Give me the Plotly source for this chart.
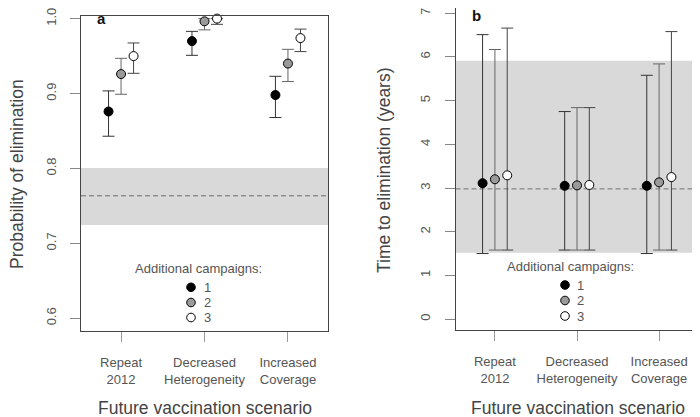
import plotly.graph_objects as go

# page body has an 8px margin, so the figure is drawn 8px in from the window edge
OFF = 8
W, H = 700 - OFF, 417 - OFF

# ---------------- data ----------------
scenarios = ["Repeat<br>2012", "Decreased<br>Heterogeneity", "Increased<br>Coverage"]
campaigns = ["1", "2", "3"]

# Panel a: probability of elimination (point, lower, upper) per number of additional campaigns
prob_mid_1 = [0.876, 0.970, 0.898]
prob_lo_1 = [0.843, 0.951, 0.868]
prob_hi_1 = [0.9035, 0.983, 0.923]
prob_mid_2 = [0.926, 0.9964, 0.940]
prob_lo_2 = [0.899, 0.985, 0.916]
prob_hi_2 = [0.947, 1.000, 0.959]
prob_mid_3 = [0.950, 1.000, 0.974]
prob_lo_3 = [0.927, 0.9924, 0.956]
prob_hi_3 = [0.9675, 1.000, 0.986]
prob_band = [0.7245, 0.8005]
prob_ref = 0.7635
prob_ticks = [0.6, 0.7, 0.8, 0.9, 1.0]

# Panel b: time to elimination (years)
time_mid_1 = [3.11, 3.05, 3.05]
time_lo_1 = [1.50, 1.58, 1.50]
time_hi_1 = [6.51, 4.75, 5.58]
time_mid_2 = [3.20, 3.06, 3.13]
time_lo_2 = [1.58, 1.58, 1.58]
time_hi_2 = [6.17, 4.84, 5.84]
time_mid_3 = [3.29, 3.07, 3.25]
time_lo_3 = [1.58, 1.58, 1.58]
time_hi_3 = [6.66, 4.84, 6.58]
time_band = [1.52, 5.915]
time_ref = 2.98
time_ticks = [0, 1, 2, 3, 4, 5, 6, 7]

# ---------------- styling ----------------
FONT = "Liberation Sans, Arial, Helvetica, sans-serif"
TXT = "#555555"
fills = ["#000000", "#9a9a9a", "#ffffff"]
bar_cols = ["#333333", "#666666", "#444444"]
offsets = [-0.15, 0.0, 0.15]
cat_pos = [1, 2, 3]


def px(x):
    return (x - OFF) / W


def py(y):
    return 1 - (y - OFF) / H


fig = go.Figure()

panels = [
    ("x", "y", [prob_mid_1, prob_mid_2, prob_mid_3], [prob_lo_1, prob_lo_2, prob_lo_3],
     [prob_hi_1, prob_hi_2, prob_hi_3]),
    ("x2", "y2", [time_mid_1, time_mid_2, time_mid_3], [time_lo_1, time_lo_2, time_lo_3],
     [time_hi_1, time_hi_2, time_hi_3]),
]

for xa, ya, mids, los, his in panels:
    for k in range(3):
        xs = [c + offsets[k] for c in cat_pos]
        fig.add_trace(go.Scatter(
            x=xs, y=mids[k], xaxis=xa, yaxis=ya, mode="markers",
            marker=dict(size=9, color=fills[k], line=dict(color="#000000", width=1)),
            error_y=dict(type="data", symmetric=False,
                         array=[h - m for h, m in zip(his[k], mids[k])],
                         arrayminus=[m - l for m, l in zip(mids[k], los[k])],
                         color=bar_cols[k], thickness=1, width=6),
            showlegend=False, hoverinfo="skip", cliponaxis=False,
        ))

common_x = dict(range=[0.52, 3.48], tickvals=cat_pos, ticktext=scenarios,
                showgrid=False, zeroline=False, showline=True, mirror=True,
                linecolor="#444444", linewidth=1, ticks="outside", ticklen=10,
                tickcolor="#999999", tickwidth=1, automargin=False,
                ticklabeloverflow="allow",
                tickfont=dict(family=FONT, size=13, color=TXT), ticklabelstandoff=9)
common_y = dict(showgrid=False, zeroline=False, showline=True, mirror=True,
                linecolor="#444444", linewidth=1, ticks="outside", ticklen=10,
                tickcolor="#888888", tickwidth=1, tickangle=-90, automargin=False,
                ticklabeloverflow="allow",
                tickfont=dict(family=FONT, size=13, color=TXT), ticklabelstandoff=9)

fig.update_layout(
    width=W, height=H, margin=dict(l=0, r=0, t=0, b=0, pad=0, autoexpand=False),
    paper_bgcolor="white", plot_bgcolor="white", showlegend=False,
    xaxis=dict(domain=[px(81), px(328)], anchor="y", **common_x),
    yaxis=dict(domain=[py(331), py(16)], anchor="x", range=[0.583, 1.0035],
               tickvals=prob_ticks, tickformat=".1f", **common_y),
    xaxis2=dict(domain=[px(455.5), px(698.5)], anchor="y2", **common_x),
    yaxis2=dict(domain=[py(330), 1.0], anchor="x2", range=[-0.25, 7.12],
                tickvals=time_ticks, **common_y),
)

# shaded bands and dashed reference lines
for xr, yr, band, ref in [("x domain", "y", prob_band, prob_ref),
                          ("x2 domain", "y2", time_band, time_ref)]:
    fig.add_shape(type="rect", xref=xr, yref=yr, x0=0, x1=1, y0=band[0], y1=band[1],
                  fillcolor="#d9d9d9", line=dict(width=0), layer="below")
    fig.add_shape(type="line", xref=xr, yref=yr, x0=0, x1=1, y0=ref, y1=ref,
                  line=dict(color="#6f6f6f", width=1, dash="5px,3px"), layer="below")


def label(x, y, text, size, color=TXT, angle=0):
    fig.add_annotation(x=px(x), y=py(y), xref="paper", yref="paper", text=text,
                       xanchor="center", yanchor="middle", textangle=angle,
                       borderpad=0, showarrow=False,
                       font=dict(family=FONT, size=size, color=color))


# panel letters
label(101.7, 18.5, "<b>a</b>", 15, "#111111")
label(476, 15, "<b>b</b>", 15, "#111111")

# axis titles
label(204.5, 408, "Future vaccination scenario", 17.5, "#444444")
label(578, 408, "Future vaccination scenario", 17.5, "#444444")
label(17, 174, "Probability of elimination", 17.5, "#444444", -90)
label(384, 170, "Time to elimination (years)", 17.5, "#444444", -90)

# in-panel legends
for tx, ty, mx, lx, ys in [(198, 268, 191, 207, [287.3, 302.5, 317.5]),
                           (570.7, 266.7, 565, 580, [285, 300.5, 316])]:
    label(tx, ty, "Additional campaigns:", 13)
    for k in range(3):
        fig.add_shape(type="circle", xref="paper", yref="paper",
                      xsizemode="pixel", ysizemode="pixel",
                      xanchor=px(mx), yanchor=py(ys[k]),
                      x0=-4.3, x1=4.3, y0=-4.3, y1=4.3,
                      fillcolor=fills[k], line=dict(color="#000000", width=1))
        label(lx, ys[k], campaigns[k], 13)

fig.write_html("out.html")
